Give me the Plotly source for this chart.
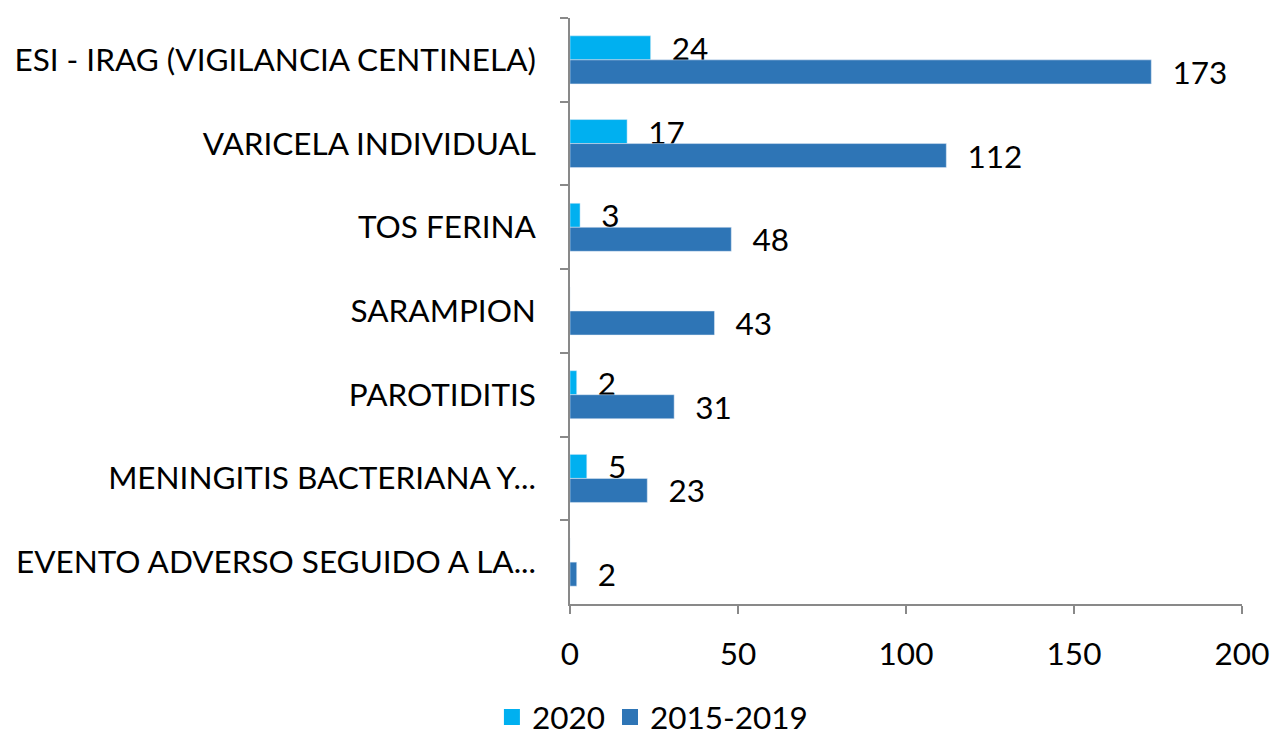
import plotly.graph_objects as go

categories = ["ESI - IRAG (VIGILANCIA CENTINELA)", "VARICELA INDIVIDUAL", "TOS FERINA",
              "SARAMPION", "PAROTIDITIS", "MENINGITIS BACTERIANA Y...",
              "EVENTO ADVERSO SEGUIDO A LA..."]
values_2020 = [24, 17, 3, 0, 2, 5, 0]
values_2015_2019 = [173, 112, 48, 43, 31, 23, 2]
x_ticks = [0, 50, 100, 150, 200]
series_names = ["2020", "2015-2019"]
series_colors = ["#00B0F0", "#2E75B6"]

FONT = "Lato"
FS = 31.5
PAD = "\u00a0\u00a0\u200a"

def labels(vals):
    return [PAD + str(v) if v else "" for v in vals]

fig = go.Figure()
for name, vals, col in zip(series_names, [values_2020, values_2015_2019], series_colors):
    fig.add_trace(go.Bar(
        y=categories, x=vals, orientation="h", name=name, showlegend=False,
        marker=dict(color=col),
        text=labels(vals), textposition="outside", constraintext="none",
        textfont=dict(family=FONT, size=FS, color="#000000"), cliponaxis=False,
    ))
# legend-only entries (on a hidden overlay axis so they do not take bar slots)
for name, col in zip(series_names, series_colors):
    fig.add_trace(go.Scatter(
        y=[None], x=[None], mode="markers", name=name, showlegend=True,
        marker=dict(color=col, symbol="square", size=21),
        xaxis="x2", yaxis="y2", hoverinfo="skip",
    ))

fig.update_layout(
    width=1273, height=744,
    margin=dict(l=570, r=31, t=18, b=140, autoexpand=False),
    barmode="group", bargap=0.426, bargroupgap=0,
    paper_bgcolor="white", plot_bgcolor="white",
    font=dict(family=FONT, size=FS, color="#000000"),
    showlegend=True,
    legend=dict(orientation="h", xref="container", yref="container",
                x=0.5125, xanchor="center", y=-0.009, yanchor="bottom",
                font=dict(size=FS), traceorder="normal", itemwidth=30,
                itemsizing="trace", bgcolor="rgba(0,0,0,0)"),
    xaxis=dict(range=[0, 200], tickvals=x_ticks, showgrid=False, zeroline=False,
               showline=True, linecolor="#898989", linewidth=1.5,
               ticks="outside", ticklen=8, tickcolor="#898989", tickwidth=1.5,
               ticklabelstandoff=13, tickfont=dict(size=FS)),
    yaxis=dict(categoryorder="array", categoryarray=categories, autorange="reversed",
               showgrid=False, zeroline=False, showline=True, linecolor="#898989",
               linewidth=1.5, ticks="outside", ticklen=8, tickcolor="#898989",
               tickwidth=1.5, tickson="boundaries", ticklabelstandoff=26,
               tickfont=dict(size=FS)),
    xaxis2=dict(overlaying="x", visible=False, range=[0, 1]),
    yaxis2=dict(overlaying="y", visible=False, range=[0, 1]),
)

fig.write_html("out.html", config={"displayModeBar": False},
               post_script="document.body.style.margin='0';")
